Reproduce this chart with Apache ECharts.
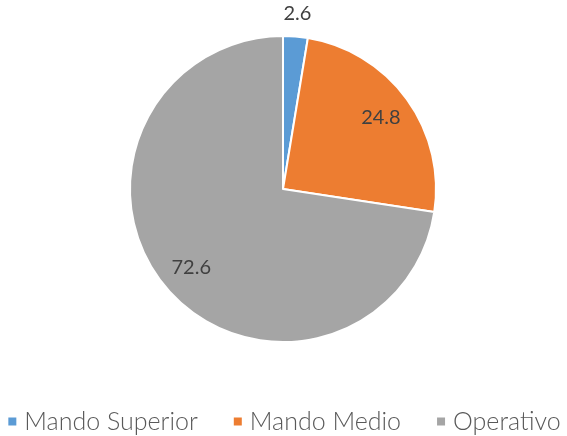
<!DOCTYPE html>
<html>
<head>
<meta charset="utf-8">
<script src="https://cdn.jsdelivr.net/npm/echarts@6/dist/echarts.min.js"></script>
<style>
  html, body { margin: 0; padding: 0; background: #fff; }
  #chart { width: 567px; height: 436px; }
</style>
</head>
<body>
<div id="chart"></div>
<script>
// categories and values
const categories = ['Mando Superior', 'Mando Medio', 'Operativo'];
const values = [2.6, 24.8, 72.6];
const colors = ['#5B9BD5', '#ED7D31', '#A5A5A5'];

const chart = echarts.init(document.getElementById('chart'));

const center = [283, 189];
const labelStyle = {
  formatter: '{c}',
  fontFamily: 'Lato',
  fontSize: 20,
  color: '#404040'
};

// main slices
const pieData = categories.map((name, i) => ({
  name,
  value: values[i],
  itemStyle: { color: colors[i] }
}));

// transparent copies only used for placing the labels
const insideLabels = categories.map((name, i) => ({
  name,
  value: values[i],
  label: { show: i > 0 }
}));
const outsideLabels = categories.map((name, i) => ({
  name,
  value: values[i],
  label: { show: i === 0 }
}));

const ghost = {
  type: 'pie',
  center,
  startAngle: 90,
  clockwise: true,
  silent: true,
  legendHoverLink: false,
  itemStyle: { color: 'rgba(0,0,0,0)', borderWidth: 0 },
  labelLine: { show: false },
  emphasis: { disabled: true }
};

const option = {
  animation: false,
  legend: {
    data: categories,
    top: 409,
    left: 'center',
    padding: 0,
    icon: 'rect',
    itemWidth: 10,
    itemHeight: 10,
    itemGap: 34,
    textStyle: {
      fontFamily: 'Lato',
      fontWeight: 300,
      fontSize: 25,
      color: '#595959',
      padding: [0, 0, 0, 2]
    }
  },
  series: [
    {
      type: 'pie',
      center,
      radius: [0, 153],
      startAngle: 90,
      clockwise: true,
      data: pieData,
      itemStyle: { borderColor: '#fff', borderWidth: 2 },
      label: { show: false },
      labelLine: { show: false },
      emphasis: { scale: false }
    },
    Object.assign({}, ghost, {
      radius: [84, 152],
      data: insideLabels,
      label: Object.assign({ position: 'inside' }, labelStyle)
    }),
    Object.assign({}, ghost, {
      radius: [160, 186],
      data: outsideLabels,
      label: Object.assign({ position: 'inside' }, labelStyle)
    })
  ]
};

chart.setOption(option);
</script>
</body>
</html>
